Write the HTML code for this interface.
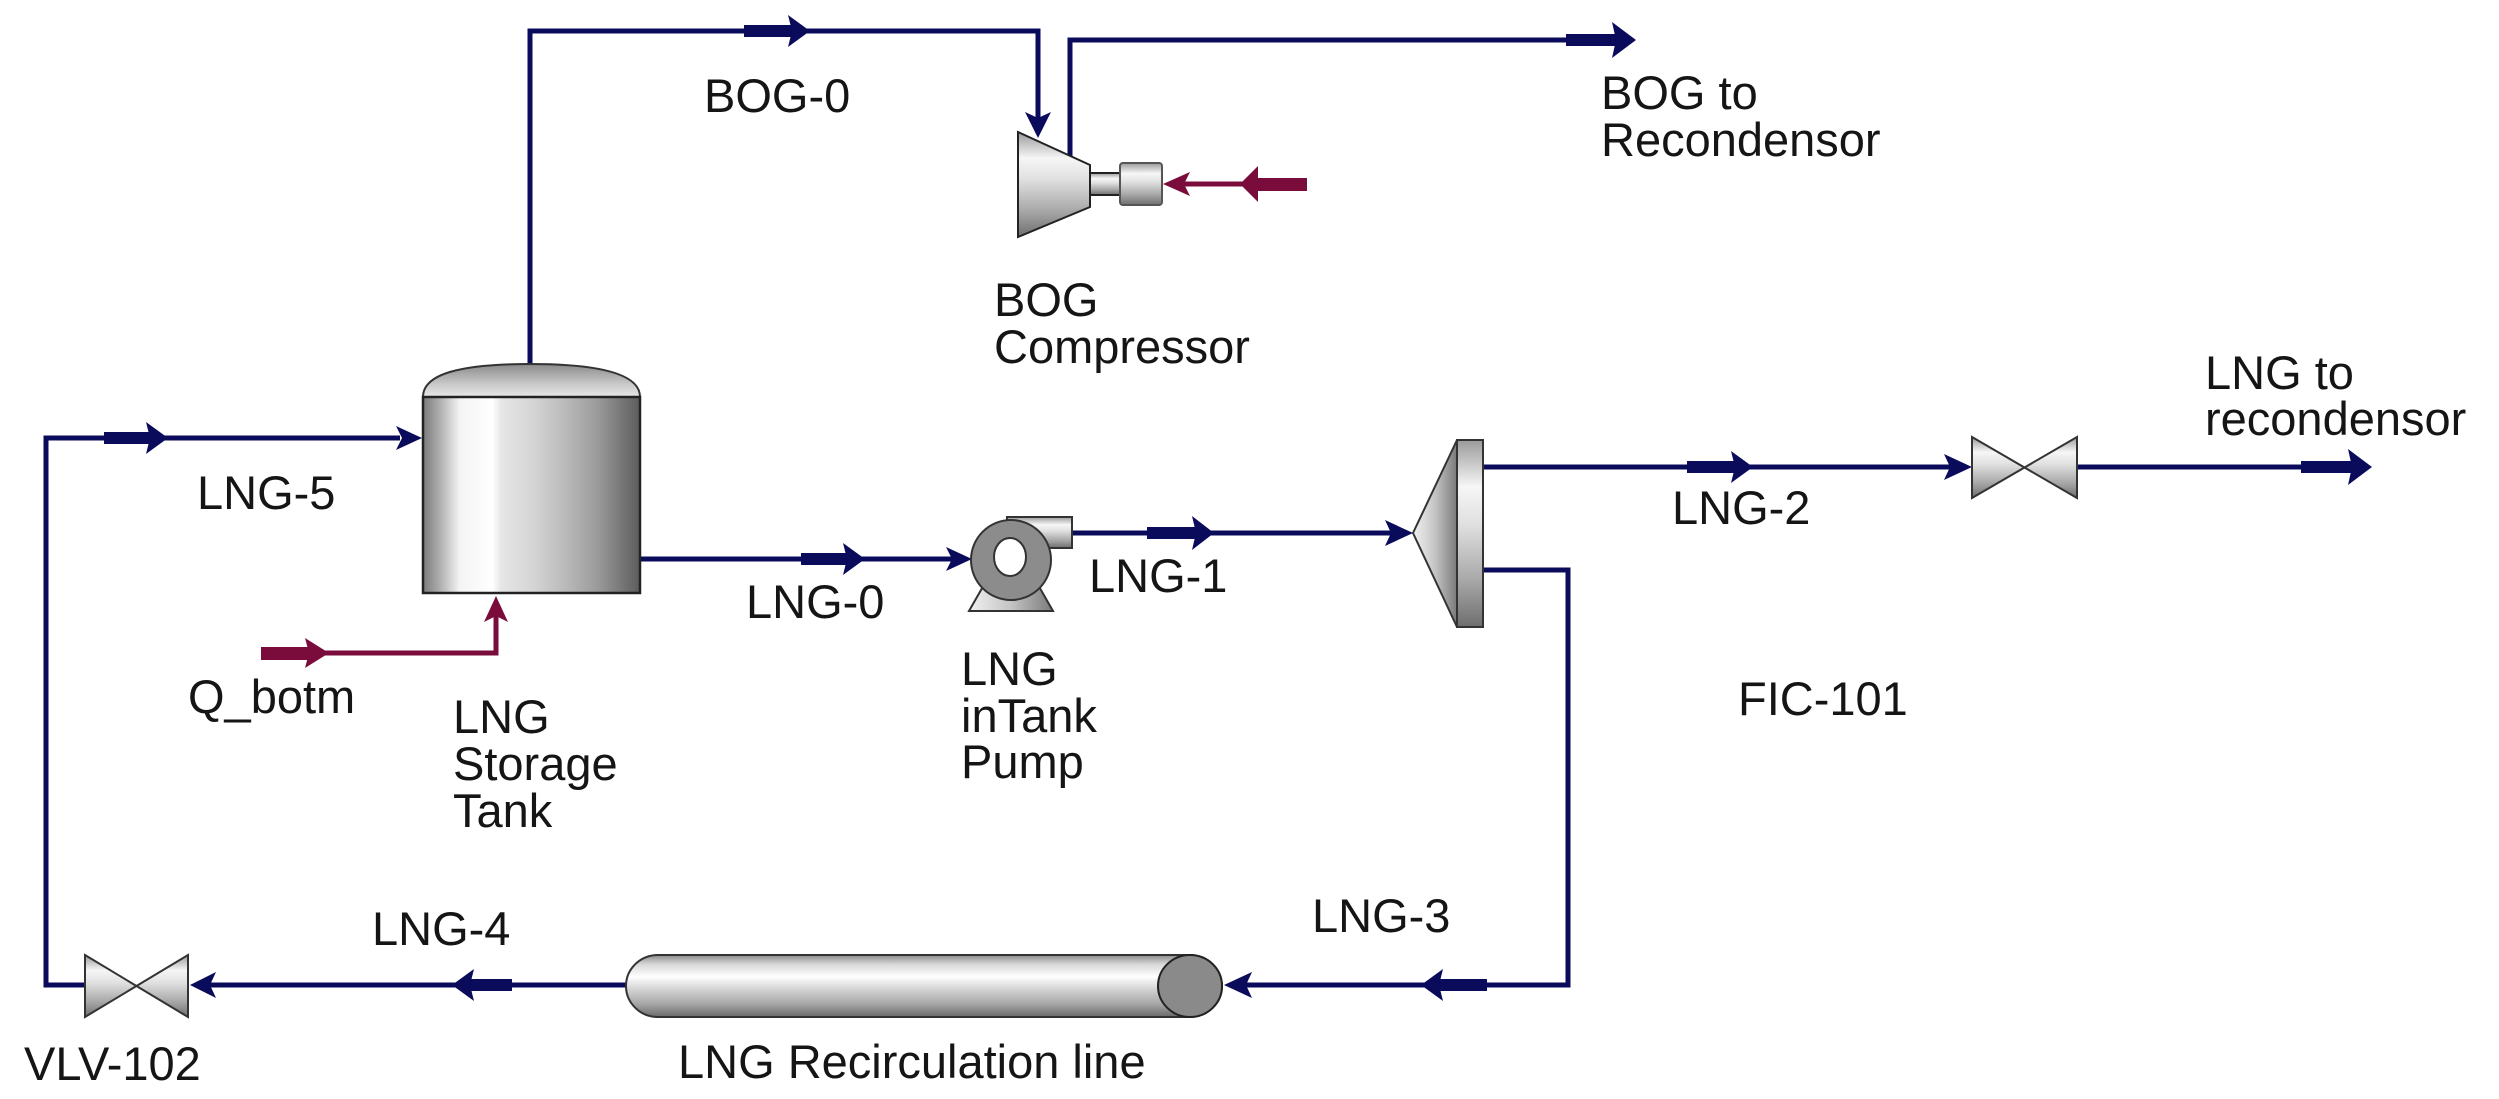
<!DOCTYPE html>
<html><head><meta charset="utf-8"><style>
html,body{margin:0;padding:0;background:#fff;}
svg{display:block;}
text{font-family:"Liberation Sans",Arial,sans-serif;font-size:47px;fill:#151515;}
</style></head><body>
<svg width="2499" height="1099" viewBox="0 0 2499 1099" xmlns="http://www.w3.org/2000/svg">
<defs>
<linearGradient id="tank" x1="0" y1="0" x2="1" y2="0">
<stop offset="0" stop-color="#7a7a7a"/><stop offset="0.08" stop-color="#b0b0b0"/><stop offset="0.17" stop-color="#f4f4f4"/><stop offset="0.32" stop-color="#ffffff"/><stop offset="0.36" stop-color="#e6e6e6"/><stop offset="0.5" stop-color="#d6d6d6"/><stop offset="0.64" stop-color="#bdbdbd"/><stop offset="0.8" stop-color="#9c9c9c"/><stop offset="1" stop-color="#5c5c5c"/>
</linearGradient>
<linearGradient id="dome" x1="0" y1="0" x2="0" y2="1">
<stop offset="0" stop-color="#8a8a8a"/><stop offset="0.6" stop-color="#c8c8c8"/><stop offset="1" stop-color="#e8e8e8"/>
</linearGradient>
<linearGradient id="vgrad" x1="0" y1="0" x2="0" y2="1">
<stop offset="0" stop-color="#9a9a9a"/><stop offset="0.25" stop-color="#f6f6f6"/><stop offset="0.45" stop-color="#e0e0e0"/><stop offset="0.75" stop-color="#a8a8a8"/><stop offset="1" stop-color="#6e6e6e"/>
</linearGradient>
<linearGradient id="pipe" x1="0" y1="0" x2="0" y2="1">
<stop offset="0" stop-color="#8a8a8a"/><stop offset="0.15" stop-color="#d8d8d8"/><stop offset="0.35" stop-color="#ffffff"/><stop offset="0.55" stop-color="#d4d4d4"/><stop offset="0.8" stop-color="#a4a4a4"/><stop offset="1" stop-color="#6a6a6a"/>
</linearGradient>
<linearGradient id="hgrad" x1="0" y1="0" x2="1" y2="0">
<stop offset="0" stop-color="#f2f2f2"/><stop offset="0.5" stop-color="#c4c4c4"/><stop offset="1" stop-color="#7a7a7a"/>
</linearGradient>
</defs>

<g fill="none" stroke="#0b0b5c" stroke-width="5">
<polyline points="530,364 530,31 1038,31 1038,125"/>
<polyline points="1070,157 1070,40 1615,40"/>
<polyline points="400,438 46,438 46,985 85,985"/>
<line x1="640" y1="559" x2="960" y2="559"/>
<line x1="1072" y1="533" x2="1400" y2="533"/>
<line x1="1483" y1="467" x2="1960" y2="467"/>
<line x1="2077" y1="467" x2="2350" y2="467"/>
<polyline points="1483,570 1568,570 1568,985 1235,985"/>
<line x1="626" y1="985" x2="200" y2="985"/>
</g>

<g fill="none" stroke="#7a0c3c" stroke-width="5">
<line x1="1175" y1="184" x2="1260" y2="184"/>
<polyline points="320,653 496,653 496,605"/>
</g>

<g fill="#0b0b5c">
<rect x="744" y="25" width="50" height="12"/><polygon points="788,15 810,31 788,47 792,31"/>
<rect x="1566" y="34" width="52" height="12"/><polygon points="1612,22 1636,40 1612,58 1616,40"/>
<rect x="104" y="432" width="48" height="12"/><polygon points="146,422 168,438 146,454 150,438"/>
<rect x="801" y="553" width="48" height="12"/><polygon points="843,543 865,559 843,575 847,559"/>
<rect x="1147" y="527" width="50" height="12"/><polygon points="1192,516 1214,533 1192,550 1196,533"/>
<rect x="1687" y="461" width="50" height="12"/><polygon points="1731,451 1753,467 1731,483 1735,467"/>
<rect x="2301" y="461" width="52" height="12"/><polygon points="2348,449 2372,467 2348,485 2352,467"/>
<rect x="1437" y="979" width="50" height="12"/><polygon points="1443,969 1421,985 1443,1001 1439,985"/>
<rect x="466" y="979" width="46" height="12"/><polygon points="474,969 452,985 474,1001 470,985"/>
<polygon points="1025,112 1038,138 1051,112 1038,118"/>
<polygon points="396,426 422,438 396,450 402,438"/>
<polygon points="946,547 972,559 946,571 952,559"/>
<polygon points="1385,520 1413,533 1385,546 1391,533"/>
<polygon points="1944,454 1972,467 1944,480 1950,467"/>
<polygon points="1252,972 1224,985 1252,998 1246,985"/>
<polygon points="216,972 190,985 216,998 210,985"/>
</g>
<g fill="#7a0c3c">
<polygon points="1190,172 1163,184 1190,196 1184,184"/>
<rect x="1253" y="178" width="54" height="13"/><polygon points="1258,166 1240,184 1258,202"/>
<rect x="261" y="647" width="48" height="13"/><polygon points="305,638 329,653 305,668 309,653"/>
<polygon points="484,622 496,596 508,622 496,616"/>
</g>

<path d="M423,397 C423,374 460,364 530,364 C600,364 640,374 640,397 Z" fill="url(#dome)" stroke="#333" stroke-width="2"/>
<rect x="423" y="397" width="217" height="196" fill="url(#tank)" stroke="#222" stroke-width="2.5"/>

<polygon points="1018,132 1090,165 1090,207 1018,237" fill="url(#vgrad)" stroke="#222" stroke-width="2"/>
<rect x="1090" y="173" width="31" height="22" fill="url(#vgrad)" stroke="#222" stroke-width="2"/>
<rect x="1120" y="163" width="42" height="42" rx="3" fill="url(#vgrad)" stroke="#555" stroke-width="2"/>

<polygon points="985,583 1037,583 1053,611 969,611" fill="url(#hgrad)" stroke="#333" stroke-width="2"/>
<rect x="1007" y="517" width="65" height="31" fill="url(#vgrad)" stroke="#333" stroke-width="2"/>
<circle cx="1011" cy="560" r="40" fill="#8c8c8c" stroke="#333" stroke-width="2"/>
<ellipse cx="1010" cy="557" rx="16" ry="19" fill="#fff" stroke="#333" stroke-width="2"/>

<polygon points="1413,533 1457,440 1457,627" fill="url(#hgrad)" stroke="#333" stroke-width="2"/>
<rect x="1457" y="440" width="26" height="187" fill="url(#vgrad)" stroke="#333" stroke-width="2"/>

<polygon points="1972,437 2077,498 2077,437 1972,498" fill="url(#vgrad)" stroke="#333" stroke-width="2"/>
<polygon points="85,955 188,1017 188,955 85,1017" fill="url(#vgrad)" stroke="#333" stroke-width="2"/>

<rect x="626" y="955" width="596" height="62" rx="32" ry="31" fill="url(#pipe)" stroke="#333" stroke-width="2"/>
<ellipse cx="1190" cy="986" rx="32" ry="31" fill="#8a8a8a" stroke="#222" stroke-width="2"/>

<text x="704" y="112">BOG-0</text>
<text x="994" y="316">BOG</text>
<text x="994" y="363">Compressor</text>
<text x="1601" y="109">BOG to</text>
<text x="1601" y="156">Recondensor</text>
<text x="2205" y="389">LNG to</text>
<text x="2205" y="435">recondensor</text>
<text x="197" y="509">LNG-5</text>
<text x="746" y="618">LNG-0</text>
<text x="1089" y="592">LNG-1</text>
<text x="1672" y="524">LNG-2</text>
<text x="961" y="685">LNG</text>
<text x="961" y="732">inTank</text>
<text x="961" y="778">Pump</text>
<text x="188" y="713">Q_botm</text>
<text x="453" y="733">LNG</text>
<text x="453" y="780">Storage</text>
<text x="453" y="827">Tank</text>
<text x="1738" y="715">FIC-101</text>
<text x="1312" y="932">LNG-3</text>
<text x="372" y="945">LNG-4</text>
<text x="24" y="1080">VLV-102</text>
<text x="678" y="1078">LNG Recirculation line</text>
</svg>
</body></html>
